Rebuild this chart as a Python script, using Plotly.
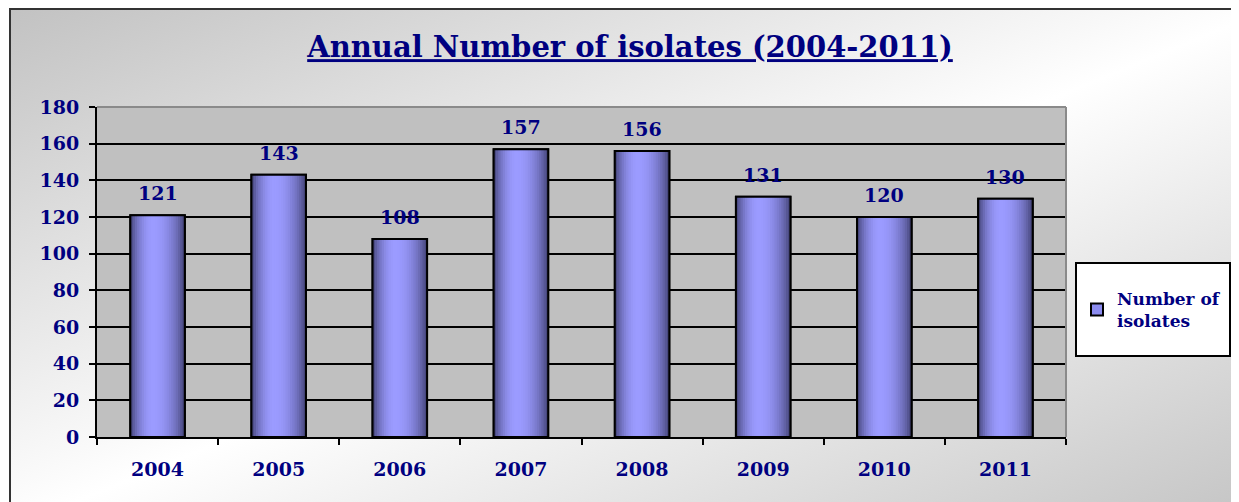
import base64, math
import plotly.graph_objects as go

years = ["2004", "2005", "2006", "2007", "2008", "2009", "2010", "2011"]
isolates = [121, 143, 108, 157, 156, 131, 120, 130]
series_name = "Number of<br>isolates"
title_text = "Annual Number of isolates (2004-2011)"
y_ticks = [0, 20, 40, 60, 80, 100, 120, 140, 160, 180]

W = 0.45
N = 24
NAVY = "#000080"
FONT = "DejaVu Serif"

# page is offset by 8px body margin; figure coords = page coords - 8
OFF = 8
FW, FH = 1239, 502
L = 97 - OFF
T = 107 - OFF
R = FW - (1066 - OFF)
B = FH - (437 - OFF)
PW, PH = FW - L - R, FH - T - B

def px_x(p):
    return (p - OFF - L) / PW

def px_y(p):
    return (FH - B - (p - OFF)) / PH

def shade(t):
    t0 = 0.42
    if t < t0:
        s = math.sin(math.pi / 2 * t / t0)
    else:
        s = math.sin(math.pi / 2 * (1 - t) / (1 - t0))
    s = max(0.0, s) ** 0.7
    dark = (58, 58, 105)
    light = (155, 155, 255)
    c = [round(d + (l - d) * s) for d, l in zip(dark, light)]
    return "rgb(%d,%d,%d)" % tuple(c)

fig = go.Figure()

fig.add_trace(go.Bar(
    x=years, y=isolates, width=W, name=series_name,
    marker=dict(color="#8c8cf0", line=dict(color="black", width=2)),
    showlegend=True, hoverinfo="skip",
))
step = W / N
for i in range(N):
    t = (i + 0.5) / N
    wid = step * (1.6 if i < N - 1 else 1.0)
    fig.add_trace(go.Bar(
        x=years, y=isolates, width=wid, offset=-W / 2 + i * step,
        marker=dict(color=shade(t), line=dict(width=0)),
        showlegend=False, hoverinfo="skip",
    ))
fig.add_trace(go.Bar(
    x=years, y=isolates, width=W,
    marker=dict(color="rgba(0,0,0,0)", line=dict(color="black", width=2)),
    showlegend=False, hoverinfo="skip",
))

annotations = []
for idx, v in enumerate(isolates):
    annotations.append(dict(
        x=idx, y=v, xref="x", yref="y", text=str(v), showarrow=False, yshift=22,
        xanchor="center", yanchor="middle",
        font=dict(family=FONT, size=19, color=NAVY, weight="bold"),
    ))

svg = '''<svg xmlns="http://www.w3.org/2000/svg" width="1240" height="504" viewBox="0 0 1240 504" preserveAspectRatio="none">
<defs><linearGradient id="g" x1="0" y1="0" x2="1" y2="1">
<stop offset="0" stop-color="#c2c2c2"/><stop offset="0.5" stop-color="#ffffff"/><stop offset="1" stop-color="#c2c2c2"/>
</linearGradient></defs>
<rect x="1" y="1" width="1260" height="520" fill="url(#g)" stroke="#333333" stroke-width="2"/>
</svg>'''
src = "data:image/svg+xml;base64," + base64.b64encode(svg.encode()).decode()

tick_font = dict(family=FONT, size=19, color=NAVY, weight="bold")

fig.update_layout(
    width=FW, height=FH,
    margin=dict(l=L, r=R, t=T, b=B, autoexpand=False),
    paper_bgcolor="white", plot_bgcolor="#c0c0c0",
    barmode="overlay",
    title=dict(
        text=title_text, x=(630 - OFF) / FW, xref="container", xanchor="center",
        y=1 - (47 - OFF) / FH, yanchor="middle",
        font=dict(family=FONT, size=29, color=NAVY, weight="bold", lineposition="under"),
    ),
    xaxis=dict(
        type="category", showgrid=False, showline=True, linecolor="black", linewidth=2,
        ticks="outside", tickson="boundaries", ticklen=6, tickwidth=2, tickcolor="black",
        ticklabelstandoff=14, tickfont=tick_font, range=[-0.5, 7.5],
    ),
    yaxis=dict(
        range=[0, 180], tickvals=y_ticks, showgrid=True, gridcolor="black", gridwidth=2,
        showline=True, linecolor="black", linewidth=2,
        ticks="outside", ticklen=6, tickwidth=2, tickcolor="black",
        ticklabelstandoff=6, zeroline=False, tickfont=tick_font,
    ),
    legend=dict(
        x=px_x(1077), y=px_y(310), xanchor="left", yanchor="middle",
        bgcolor="rgba(0,0,0,0)", borderwidth=0,
        font=dict(family=FONT, size=17, color=NAVY, weight="bold"),
    ),
    annotations=annotations,
    images=[dict(
        source=src, xref="paper", yref="paper",
        x=(9 - OFF - L) / PW, y=(FH - B - (8 - OFF)) / PH,
        sizex=1240 / PW, sizey=504 / PH,
        xanchor="left", yanchor="top", sizing="stretch", layer="below",
    )],
    shapes=[
        dict(type="rect", xref="paper", yref="paper", x0=0, x1=1, y0=0, y1=1,
             fillcolor="#c0c0c0", line=dict(width=0), layer="below"),
        dict(type="rect", xref="paper", yref="paper",
             x0=px_x(1076), x1=px_x(1230), y0=px_y(356), y1=px_y(263),
             fillcolor="white", line=dict(color="black", width=2), layer="below"),
        dict(type="line", xref="paper", yref="paper", x0=0, x1=1, y0=1, y1=1,
             line=dict(color="#8a8a8a", width=2), layer="above"),
        dict(type="line", xref="paper", yref="paper", x0=1, x1=1, y0=0, y1=1,
             line=dict(color="#8a8a8a", width=2), layer="above"),
    ],
)

fig.write_html("out.html")
